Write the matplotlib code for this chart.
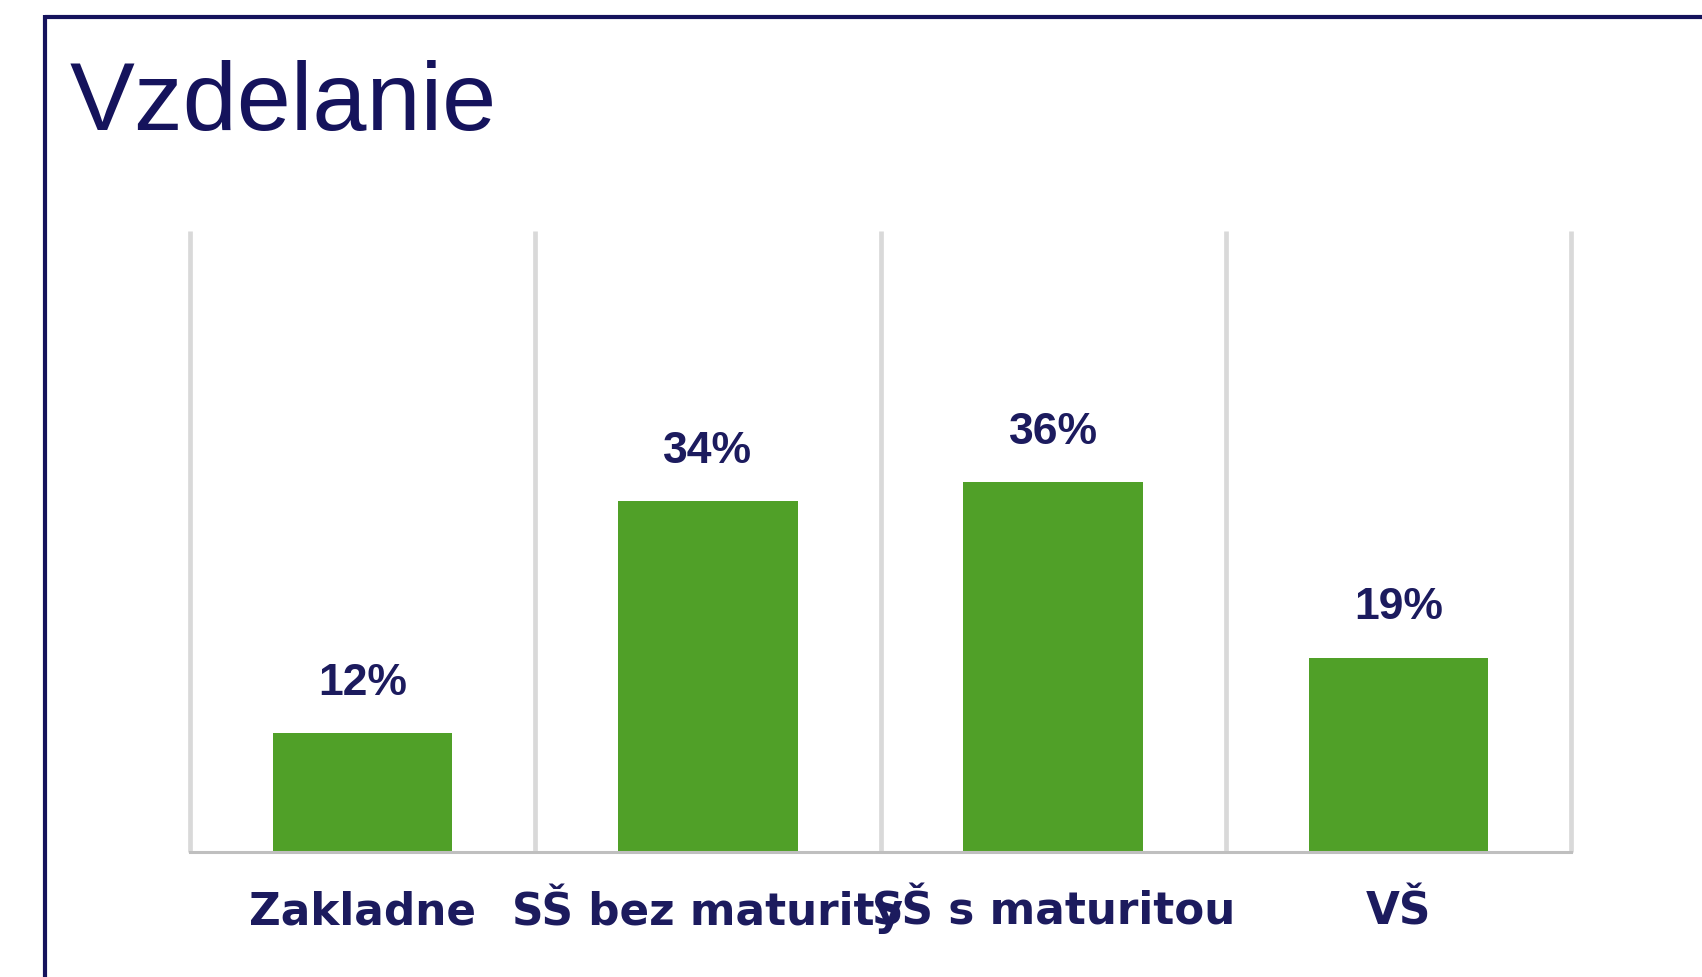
import numpy as np
import matplotlib
matplotlib.use("Agg")
import matplotlib.pyplot as plt
from matplotlib.lines import Line2D

# Data
title = "Vzdelanie"
categories = ["Zakladne", "SŠ bez maturity", "SŠ s maturitou", "VŠ"]
values = [11.6, 34.1, 36.0, 18.9]   # percent

W, H, DPI = 1702, 977, 100
fig = plt.figure(figsize=(W / DPI, H / DPI), dpi=DPI, facecolor="white")

navy = "#15135C"
label_col = "#1C1B5E"
green = "#50A028"

ax = fig.add_axes([190 / W, 1 - 852 / H, (1571 - 190) / W, (852 - 231) / H])
x = np.arange(len(categories))
ax.bar(x, values, width=0.52, color=green, zorder=3)
ax.set_xlim(-0.5, len(categories) - 0.5)
ax.set_ylim(0, 60.4)

# vertical separators
bounds = np.arange(len(categories) + 1) - 0.5
ax.vlines(bounds, 0, 1, transform=ax.get_xaxis_transform(), color="#D9D9D9",
          lw=3.4, zorder=1, clip_on=False)

for s in ["top", "left", "right"]:
    ax.spines[s].set_visible(False)
ax.spines["bottom"].set_color("#BFBFBF")
ax.spines["bottom"].set_linewidth(2.2)
ax.spines["bottom"].set_zorder(4)
ax.set_yticks([])
ax.set_xticks(x)
ax.set_xticklabels(categories, fontsize=31.5, fontweight="bold",
                   family="DejaVu Sans", color=label_col, va="baseline")
ax.tick_params(axis="x", length=0, pad=52.5)

for xi, v in zip(x, values):
    ax.annotate(f"{round(v)}%", (xi, v), xytext=(0, 27.5), textcoords="offset points",
                ha="center", va="baseline", fontsize=32, fontweight="bold",
                family="Liberation Sans", color=label_col)

# title
fig.text(70 / W, 1 - 130 / H, title, fontsize=70, family="Liberation Sans",
         color=navy, ha="left", va="baseline")

# frame lines (top & left)
fig.add_artist(Line2D([45 / W, 1.0], [1 - 17 / H, 1 - 17 / H], color=navy, lw=3.0,
                      solid_capstyle="butt"))
fig.add_artist(Line2D([45 / W, 45 / W], [1 - 15 / H, 0.0], color=navy, lw=3.0,
                      solid_capstyle="butt"))

fig.savefig("out.png", dpi=DPI, facecolor="white")
